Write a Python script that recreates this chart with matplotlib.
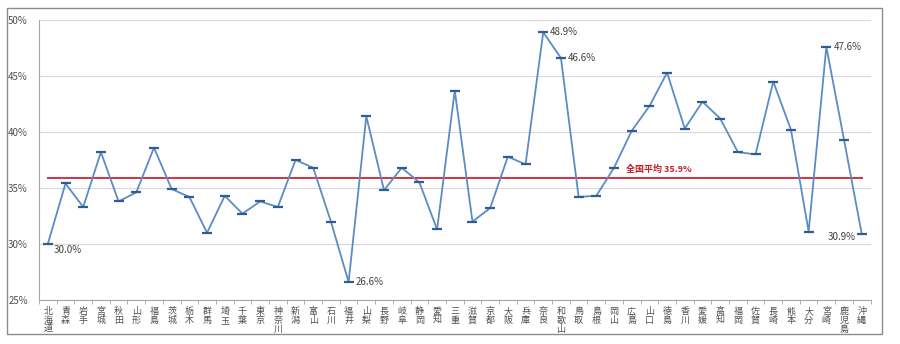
import matplotlib
matplotlib.use("Agg")
import matplotlib.pyplot as plt
from matplotlib.patches import Rectangle
from matplotlib.ticker import FixedLocator, PercentFormatter

plt.rcParams["font.family"] = ["Noto Sans CJK JP", "DejaVu Sans"]

prefectures = [
    "北海道", "青森", "岩手", "宮城", "秋田", "山形", "福島", "茨城", "栃木", "群馬",
    "埼玉", "千葉", "東京", "神奈川", "新潟", "富山", "石川", "福井", "山梨", "長野",
    "岐阜", "静岡", "愛知", "三重", "滋賀", "京都", "大阪", "兵庫", "奈良", "和歌山",
    "鳥取", "島根", "岡山", "広島", "山口", "徳島", "香川", "愛媛", "高知", "福岡",
    "佐賀", "長崎", "熊本", "大分", "宮崎", "鹿児島", "沖縄",
]
rates = [
    30.0, 35.4, 33.3, 38.2, 33.8, 34.6, 38.6, 34.9, 34.2, 31.0,
    34.3, 32.7, 33.8, 33.3, 37.5, 36.8, 32.0, 26.6, 41.4, 34.8,
    36.8, 35.5, 31.3, 43.7, 32.0, 33.2, 37.8, 37.1, 48.9, 46.6,
    34.2, 34.3, 36.8, 40.1, 42.3, 45.3, 40.3, 42.7, 41.2, 38.2,
    38.0, 44.5, 40.2, 31.1, 47.6, 39.3, 30.9,
]
national_avg = 35.9
labelled = {"北海道": "below", "福井": "right", "奈良": "right",
            "和歌山": "right", "宮崎": "right", "沖縄": "left"}
y_ticks = [25, 30, 35, 40, 45, 50]

fig = plt.figure(figsize=(9, 3.44), dpi=100)
ax = fig.add_axes([0.0433, 0.128, 0.924, 0.814])
fig.patches.append(Rectangle((0.008, 0.03), 0.972, 0.948, transform=fig.transFigure,
                             fill=False, edgecolor="#8c8c8c", linewidth=1.0))

x = list(range(len(prefectures)))
ax.plot(x, rates, color="#5b8cc4", linewidth=1.3, marker="_", markersize=7,
        markeredgewidth=1.6, markeredgecolor="#2e5d94", zorder=3)
ax.plot([x[0], x[-1]], [national_avg, national_avg], color="#d9303f",
        linewidth=1.4, zorder=2)
ax.text(32.7, national_avg + 0.35, f"全国平均 {national_avg}%", color="#c0202a",
        fontsize=6.5, fontweight="bold", va="bottom", ha="left")

for i, (name, v) in enumerate(zip(prefectures, rates)):
    if name not in labelled:
        continue
    pos = labelled[name]
    if pos == "right":
        ax.annotate(f"{v:.1f}%", (i, v), xytext=(5, 0), textcoords="offset points",
                    fontsize=7, color="#404040", va="center", ha="left")
    elif pos == "below":
        ax.annotate(f"{v:.1f}%", (i, v), xytext=(4, -4), textcoords="offset points",
                    fontsize=7, color="#404040", va="center", ha="left")
    else:
        ax.annotate(f"{v:.1f}%", (i, v), xytext=(-4, -2), textcoords="offset points",
                    fontsize=7, color="#404040", va="center", ha="right")

ax.set_xlim(-0.5, len(prefectures) - 0.5)
ax.set_ylim(25, 50)
ax.set_yticks(y_ticks)
ax.yaxis.set_major_formatter(PercentFormatter(decimals=0))
ax.grid(axis="y", color="#d9d9d9", linewidth=0.9)
ax.set_axisbelow(True)

ax.set_xticks(x)
ax.set_xticklabels(["\n".join(p) for p in prefectures], fontsize=6.5,
                   color="#505050", linespacing=1.0, va="top")
ax.xaxis.set_minor_locator(FixedLocator([i - 0.5 for i in range(len(prefectures) + 1)]))
ax.tick_params(axis="x", which="major", length=0, pad=5)
ax.tick_params(axis="x", which="minor", length=3, color="#a6a6a6")
ax.tick_params(axis="y", length=0, labelsize=7, labelcolor="#505050", pad=8)

for side in ["top", "right"]:
    ax.spines[side].set_visible(False)
ax.spines["left"].set_color("#a6a6a6")
ax.spines["bottom"].set_color("#a6a6a6")

fig.savefig("out.png", dpi=100)
